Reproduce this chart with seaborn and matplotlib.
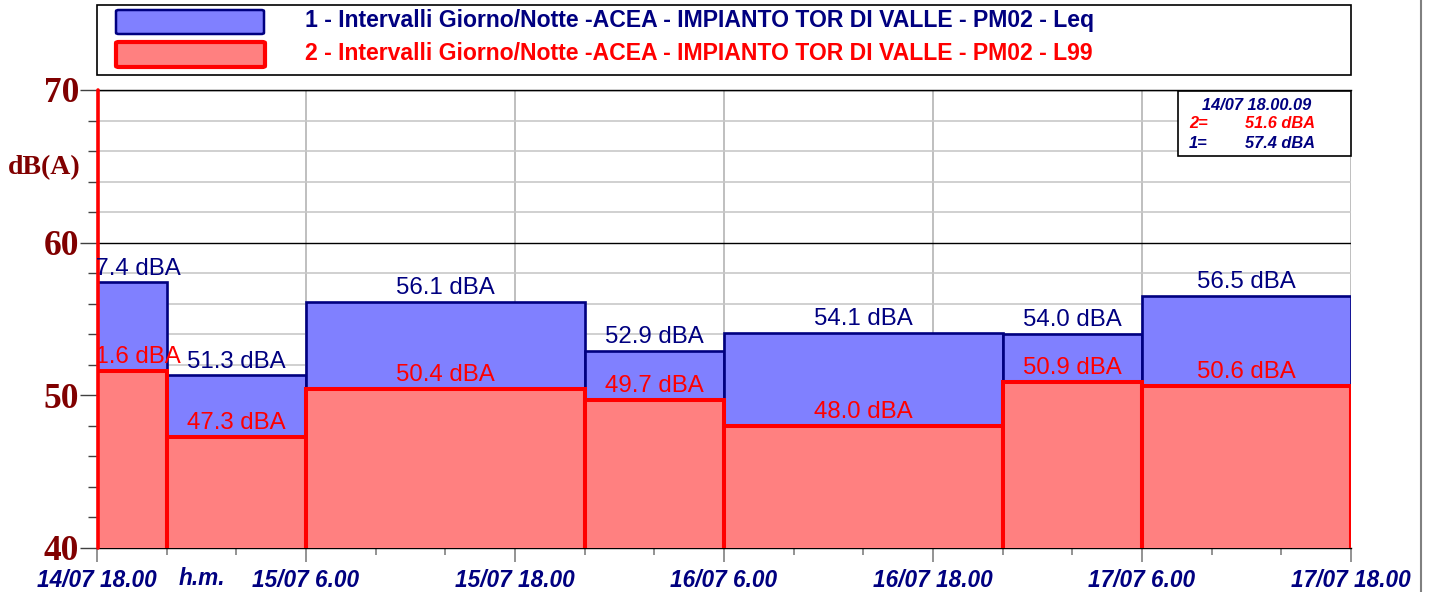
import numpy as np
import pandas as pd
import matplotlib
matplotlib.use("Agg")
import matplotlib.pyplot as plt
import seaborn as sns
from matplotlib.patches import Rectangle, FancyBboxPatch
from matplotlib.lines import Line2D
from matplotlib.ticker import MultipleLocator
import matplotlib.transforms as mtransforms

# ---- data (hours from 14/07 18.00) ----
interval_edges = [0, 4, 12, 28, 36, 52, 60, 72]
leq_values = [57.4, 51.3, 56.1, 52.9, 54.1, 54.0, 56.5]
l99_values = [51.6, 47.3, 50.4, 49.7, 48.0, 50.9, 50.6]
tick_hours = [0, 12, 24, 36, 48, 60, 72]
tick_labels = ["14/07 18.00", "15/07 6.00", "15/07 18.00", "16/07 6.00",
               "16/07 18.00", "17/07 6.00", "17/07 18.00"]
series_names = ["1 - Intervalli Giorno/Notte -ACEA - IMPIANTO TOR DI VALLE - PM02 - Leq",
                "2 - Intervalli Giorno/Notte -ACEA - IMPIANTO TOR DI VALLE - PM02 - L99"]
cursor_time = "14/07 18.00.09"

sns.set_style("white")
plt.rcParams['font.family'] = ['Liberation Sans', 'DejaVu Sans']

NAVY = "#000080"
RED = "#FF0000"
BLUE_FILL = "#8080FF"
RED_FILL = "#FF8080"
DARKRED = "#800000"

centers = [(a + b) / 2 for a, b in zip(interval_edges[:-1], interval_edges[1:])]
df = pd.DataFrame({"t": centers, "leq": leq_values, "l99": l99_values})

fig = plt.figure(figsize=(14.33, 5.92), dpi=100)
ax = fig.add_axes([97/1433, 1-548/592, (1351-97)/1433, (548-90)/592])

sns.histplot(data=df, x="t", weights="leq", bins=list(interval_edges), element="bars",
             stat="count", fill=True, color=BLUE_FILL, alpha=1,
             edgecolor=NAVY, linewidth=1.9, ax=ax, zorder=3)
sns.histplot(data=df, x="t", weights="l99", bins=list(interval_edges), element="bars",
             stat="count", fill=True, color=RED_FILL, alpha=1,
             edgecolor=RED, linewidth=2.9, ax=ax, zorder=4)

ax.set_xlim(0, 72)
ax.set_ylim(40, 70)
ax.set_xlabel("")
ax.set_ylabel("")

# grid
ax.yaxis.set_major_locator(MultipleLocator(10))
ax.yaxis.set_minor_locator(MultipleLocator(2))
ax.set_xticks(tick_hours)
ax.set_xticklabels(tick_labels)
ax.xaxis.set_minor_locator(MultipleLocator(4))
ax.set_axisbelow(True)
ax.grid(False)
ax.yaxis.grid(True, which="minor", color="#c8c8c8", lw=1.2, zorder=0)
ax.yaxis.grid(True, which="major", color="black", lw=1.0, zorder=0)
ax.xaxis.grid(True, which="major", color="#b4b4b4", lw=1.2, zorder=0)

ax.spines["right"].set_visible(False)
ax.spines["left"].set_visible(False)
ax.spines["top"].set_color("black")
ax.spines["top"].set_linewidth(1.0)
ax.spines["bottom"].set_color("black")
ax.spines["bottom"].set_linewidth(1.0)

ax.tick_params(axis="y", which="major", length=12, width=1.0, color="#404040",
               left=True, pad=1, labelsize=25.5, labelcolor=DARKRED)
ax.tick_params(axis="y", which="minor", length=6.5, width=1.0, color="#404040", left=True)
ax.tick_params(axis="x", which="major", length=10, width=1.2, color="#808080",
               bottom=True, pad=5, labelsize=16.3, labelcolor=NAVY)
ax.tick_params(axis="x", which="minor", length=5, width=1.2, color="#808080", bottom=True)
for lbl in ax.get_yticklabels():
    lbl.set_fontfamily("Liberation Serif")
    lbl.set_fontweight("bold")
for lbl in ax.get_xticklabels():
    lbl.set_fontweight("bold")
    lbl.set_fontstyle("italic")

# "h.m." unit label
trans = mtransforms.blended_transform_factory(ax.transData, ax.transAxes)
ax.annotate("h.m.", xy=(6, 0), xycoords=trans, xytext=(0, -14), textcoords="offset points",
            ha="center", va="top", fontsize=16.3, fontweight="bold", fontstyle="italic",
            color=NAVY, annotation_clip=False)

# cursor line
ax.axvline(0.05, color=RED, lw=2.6, zorder=6, clip_on=False)

# value labels
for c, v in zip(centers, leq_values):
    t = ax.annotate(f"{v:.1f} dBA", xy=(c, v), xytext=(0, 2), textcoords="offset points",
                    ha="center", va="bottom", fontsize=17.3, color=NAVY, zorder=7,
                    annotation_clip=False)
    t.set_clip_on(True)
    t.set_clip_box(ax.bbox)
for c, v in zip(centers, l99_values):
    t = ax.annotate(f"{v:.1f} dBA", xy=(c, v), xytext=(0, 2), textcoords="offset points",
                    ha="center", va="bottom", fontsize=17.3, color=RED, zorder=7,
                    annotation_clip=False)
    t.set_clip_on(True)
    t.set_clip_box(ax.bbox)

# y label
fig.text(44/1433, 1-168/592, "dB(A)", ha="center", va="center", fontsize=20,
         fontweight="bold", color=DARKRED, family="Liberation Serif")

# legend box
fig.patches.append(Rectangle((97/1433, 1-75/592), (1351-97)/1433, 70/592,
                             transform=fig.transFigure, fill=False, ec="black", lw=1.2))
fig.patches.append(FancyBboxPatch((116/1433, 1-34/592), 148/1433, 24/592,
                                  boxstyle="round,pad=0,rounding_size=0.002",
                                  transform=fig.transFigure, fc=BLUE_FILL, ec=NAVY, lw=1.8))
fig.patches.append(FancyBboxPatch((116/1433, 1-67/592), 149/1433, 25/592,
                                  boxstyle="round,pad=0,rounding_size=0.002",
                                  transform=fig.transFigure, fc=RED_FILL, ec=RED, lw=3.0))
fig.text(305/1433, 1-20/592, series_names[0], ha="left", va="center", fontsize=16.6,
         fontweight="bold", color=NAVY)
fig.text(305/1433, 1-53/592, series_names[1], ha="left", va="center", fontsize=16.6,
         fontweight="bold", color=RED)

# info box
fig.patches.append(Rectangle((1178/1433, 1-156/592), 173/1433, 65/592,
                             transform=fig.transFigure, fc="white", ec="black", lw=1.2, zorder=10))
fig.text(1257/1433, 1-105/592, cursor_time, ha="center", va="center", fontsize=11.8,
         fontweight="bold", fontstyle="italic", color=NAVY, zorder=11)
fig.text(1189/1433, 1-123/592, "2=", ha="left", va="center", fontsize=11.8,
         fontweight="bold", fontstyle="italic", color=RED, zorder=11)
fig.text(1315/1433, 1-123/592, f"{l99_values[0]:.1f} dBA", ha="right", va="center", fontsize=11.8,
         fontweight="bold", fontstyle="italic", color=RED, zorder=11)
fig.text(1189/1433, 1-143/592, "1=", ha="left", va="center", fontsize=11.8,
         fontweight="bold", fontstyle="italic", color=NAVY, zorder=11)
fig.text(1315/1433, 1-143/592, f"{leq_values[0]:.1f} dBA", ha="right", va="center", fontsize=11.8,
         fontweight="bold", fontstyle="italic", color=NAVY, zorder=11)

# right page border line
fig.lines.append(Line2D([1421/1433, 1421/1433], [0, 1], transform=fig.transFigure,
                        color="#808080", lw=1.5))

fig.savefig("out.png", dpi=100)
